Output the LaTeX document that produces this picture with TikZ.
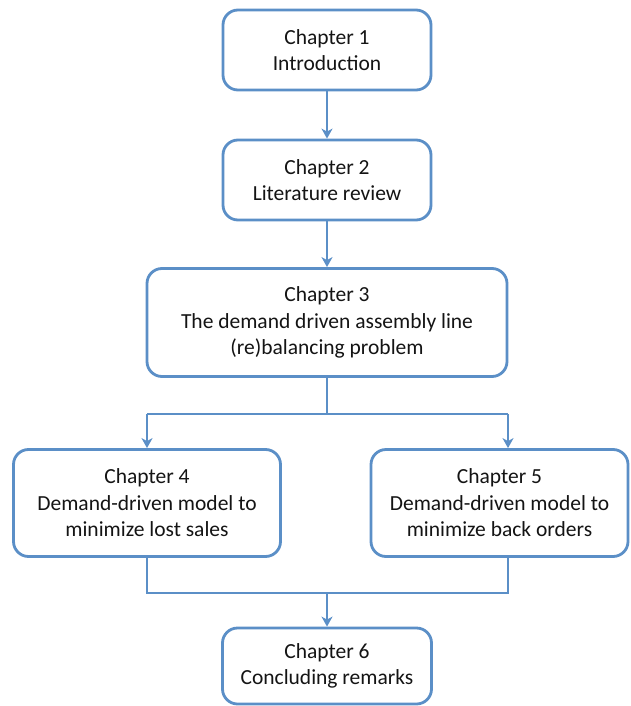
\documentclass[tikz,border=0pt]{standalone}
\usepackage{fontspec}
\setmainfont{Carlito}
\usetikzlibrary{arrows.meta,calc}
\definecolor{boxblue}{HTML}{5B8FC7}
\tikzset{
  chap/.style={draw=boxblue, line width=2.8pt, rounded corners=15pt, fill=white,
    align=center, inner sep=0pt, font=\fontsize{21.5}{26.5}\selectfont, text=black!92},
  conn/.style={draw=boxblue, line width=2.8pt},
  arr/.style={conn, -{Stealth[length=10pt,width=11pt,inset=3pt]}}
}
\begin{document}
\begin{tikzpicture}[x=1pt,y=-1pt]
\useasboundingbox (0,0) rectangle (630,706);
\node[chap, minimum width=208pt, minimum height=80pt] (c1) at (327,50) {Chapter 1\\Introduction};
\node[chap, minimum width=208pt, minimum height=80pt] (c2) at (327,180) {Chapter 2\\Literature review};
\node[chap, minimum width=360pt, minimum height=108pt] (c3) at (327,322.5) {Chapter 3\\The demand driven assembly line\\(re)balancing problem};
\node[chap, minimum width=267pt, minimum height=107pt] (c4) at (147,503) {Chapter 4\\Demand-driven model to\\minimize lost sales};
\node[chap, minimum width=257pt, minimum height=107pt] (c5) at (499.5,503) {Chapter 5\\Demand-driven model to\\minimize back orders};
\node[chap, minimum width=209pt, minimum height=76pt] (c6) at (327,666) {Chapter 6\\Concluding remarks};
\coordinate (split) at (327,414);
\coordinate (sl) at (147,414);
\coordinate (sr) at (508,414);
\coordinate (jl) at (147,593);
\coordinate (jr) at (508,593);
\coordinate (jm) at (327,593);
\draw[arr] (c1) -- (c2);
\draw[arr] (c2) -- (c3);
\draw[conn] (c3.south) -- (split);
\draw[conn] (sl) -- (sr);
\draw[arr] (sl) -- (sl |- c4.north);
\draw[arr] (sr) -- (sr |- c5.north);
\draw[conn] (c4.south -| jl) -- (jl) -- (jr) -- (jr |- c5.south);
\draw[arr] (jm) -- (c6.north);
\end{tikzpicture}
\end{document}
